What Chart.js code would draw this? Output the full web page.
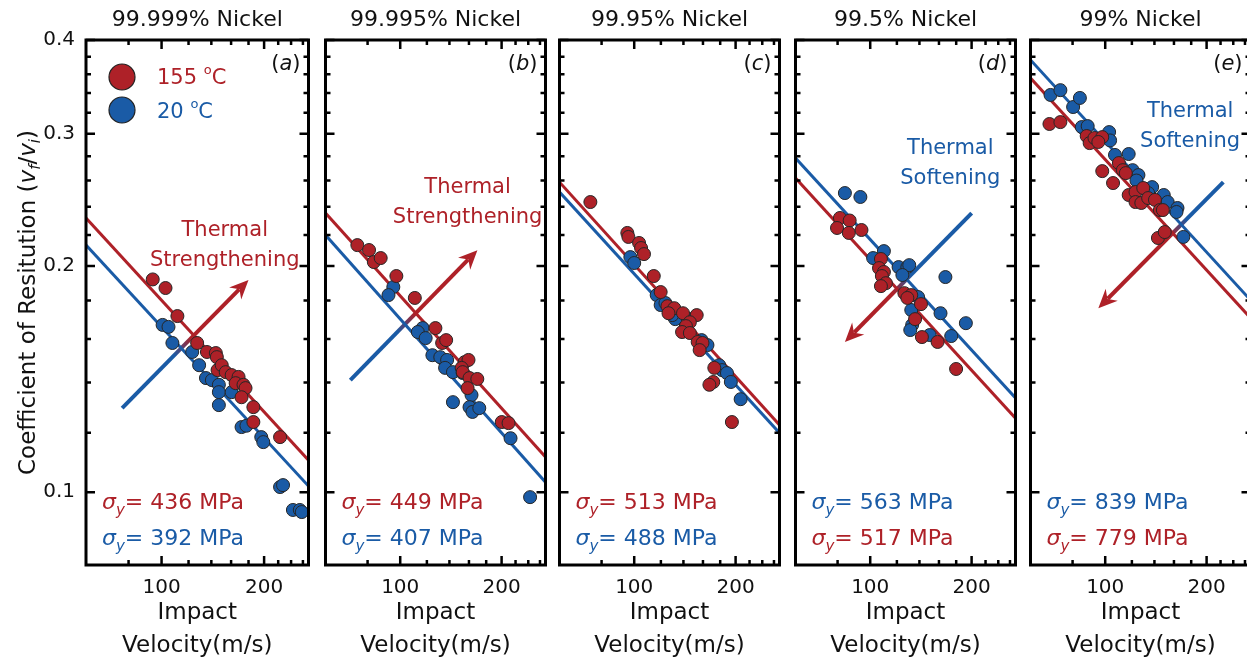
<!DOCTYPE html>
<html>
<head>
<meta charset="utf-8">
<script src="https://cdn.jsdelivr.net/npm/chart.js@4.4.1/dist/chart.umd.min.js"></script>
<style>
  html, body { margin: 0; padding: 0; background: #fff; overflow: hidden; }
  #wrap { position: relative; width: 1247px; height: 666px; overflow: hidden; }
  #wrap canvas { position: absolute; top: 0; }
</style>
</head>
<body>
<div id="wrap"></div>
<script>
const FONT = "'DejaVu Sans', sans-serif";
const RED = '#ae2128';
const BLUE = '#1a5ba6';
const INK = '#111';

const purities = ['99.999% Nickel', '99.995% Nickel', '99.95% Nickel', '99.5% Nickel', '99% Nickel'];
const panelTags = ['a', 'b', 'c', 'd', 'e'];
const legendLabels = ['155', '20'];

// [impact velocity (m/s), coefficient of restitution]
const hotA = [[94.2,0.192],[102.7,0.187],[111.3,0.1716],[127.2,0.158],[135.9,0.1537],[144.3,0.1532],[145.3,0.1513],[146,0.1454],[150.2,0.1476],[154.3,0.1445],[160.6,0.1432],[168.3,0.1424],[165,0.1397],[174,0.139],[176.4,0.1376],[171.7,0.1338],[186,0.1298],[186,0.124],[222.8,0.1184]];
const coldA = [[100.7,0.167],[104.8,0.166],[107.6,0.158],[123,0.1537],[128.9,0.1476],[135,0.1419],[140.5,0.141],[147.3,0.139],[147.3,0.1359],[147.3,0.1306],[160.6,0.1359],[171.7,0.1221],[177.5,0.1226],[196.2,0.1184],[198.9,0.1166],[222.8,0.1016],[227.3,0.1022],[243,0.0947],[254.6,0.0947],[258,0.0941]];
const hotB = [[74.6,0.2133],[80.8,0.2101],[83.5,0.2025],[87.5,0.205],[97.4,0.194],[110.5,0.1814],[127.2,0.1654],[133.2,0.158],[136.9,0.1594],[155.3,0.149],[159.5,0.15],[152.2,0.1464],[153.3,0.1445],[160.6,0.1419],[158.5,0.1376],[169.4,0.1415],[200.2,0.124],[209.7,0.1236]];
const coldB = [[95.4,0.1876],[92.3,0.183],[116.6,0.1654],[112.8,0.1634],[119,0.1604],[124.6,0.1522],[131.5,0.1513],[137.8,0.15],[135.9,0.1464],[143.4,0.1445],[153.3,0.1441],[143.4,0.1318],[162.8,0.1347],[160.6,0.1298],[163.9,0.1279],[171.7,0.1294],[212.6,0.118],[243,0.0985]];
const hotC = [[74.1,0.2434],[95.4,0.2214],[96.1,0.2187],[103.4,0.2147],[104.8,0.2114],[106.9,0.2075],[114.3,0.194],[119.8,0.1847],[125.5,0.1769],[131.5,0.1758],[139.6,0.1731],[153.3,0.1721],[126.4,0.1731],[146.3,0.1684],[142.4,0.1664],[138.7,0.1634],[146.3,0.1629],[154.3,0.1585],[159.5,0.158],[156.4,0.1546],[172.9,0.1464],[171.7,0.1402],[167.2,0.139],[195,0.124]];
const coldC = [[97.4,0.2056],[100,0.2019],[116.6,0.183],[119.8,0.1775],[123.8,0.1786],[132.4,0.17],[129.7,0.1721],[146.3,0.17],[158.5,0.1594],[165,0.157],[178.7,0.1476],[182.3,0.1454],[188.5,0.1441],[193.6,0.1402],[207,0.133]];
const hotD = [[81.3,0.2318],[86.9,0.23],[79.7,0.2248],[86.4,0.2214],[94.2,0.2234],[107.6,0.2044],[106.2,0.1988],[109.8,0.1964],[108.3,0.194],[111.3,0.1898],[107.6,0.1881],[126.3,0.1841],[132.4,0.183],[128.9,0.1814],[141.5,0.178],[135.9,0.17],[142.4,0.1609],[158.5,0.1585],[179.9,0.1459]];
const coldD = [[84.1,0.2502],[93.5,0.2472],[109.8,0.2094],[102,0.205],[121.4,0.1994],[128.9,0.1994],[130.6,0.2006],[124.6,0.1946],[167.2,0.1934],[138.7,0.1819],[132.4,0.1748],[161.7,0.1731],[192.3,0.1679],[133.2,0.167],[150.2,0.1619],[174,0.1614],[131.5,0.1644]];
const hotE = [[68.3,0.3092],[73.6,0.311],[88.1,0.298],[89.9,0.2916],[92.9,0.2962],[98,0.297],[95.4,0.2926],[109.8,0.2743],[112.8,0.2684],[115.1,0.266],[98,0.2676],[105.5,0.258],[117.4,0.2487],[123,0.251],[129.7,0.2541],[123,0.2434],[128,0.2427],[134.1,0.2464],[140.5,0.245],[145.3,0.2375],[148.3,0.2375],[143.4,0.218],[150.2,0.222]];
const coldE = [[68.8,0.338],[73.6,0.343],[80.3,0.3257],[84.1,0.3349],[85.2,0.3063],[88.7,0.3072],[102.7,0.3016],[103.4,0.294],[106.9,0.2812],[117.4,0.282],[120.6,0.2684],[125.5,0.2644],[123.8,0.26],[137.8,0.2548],[134.1,0.2502],[149.2,0.2487],[153.3,0.2434],[163.9,0.239],[162.8,0.2361],[170.6,0.2187]];

const hotPoints = [hotA, hotB, hotC, hotD, hotE];
const coldPoints = [coldA, coldB, coldC, coldD, coldE];

// power-law fits, e at the two ends of the velocity range
const fitSpan = [60, 270];
const fitHot = [[0.2318, 0.1103], [0.2353, 0.1114], [0.2587, 0.1229], [0.262, 0.1255], [0.356, 0.1706]];
const fitCold = [[0.2133, 0.1019], [0.22, 0.1031], [0.251, 0.1199], [0.2786, 0.1335], [0.3763, 0.1802]];

const sigmaHot = [436, 449, 513, 517, 779];
const sigmaCold = [392, 407, 488, 563, 839];

const velTicks = [80, 100, 120, 140, 160, 180, 200, 220, 240, 260];
const velLabels = [100, 200];
const corTicks = [0.1, 0.12, 0.14, 0.16, 0.18, 0.2, 0.22, 0.24, 0.26, 0.28, 0.3, 0.32, 0.34, 0.36, 0.38, 0.4];
const corLabels = [0.1, 0.2, 0.3, 0.4];

// trend arrows, 20 °C -> 155 °C, in data units
const arrowFrom = [[76.6, 0.1294], [71.1, 0.141], null, [200.1, 0.2353], [224.2, 0.2587]];
const arrowTo = [[180, 0.1917], [169.5, 0.21], null, [84.1, 0.1585], [95.4, 0.1758]];
const arrowMix = [0.48, 0.44, 0, 0.55, 0.36];

const noteText = [['Thermal', 'Strengthening'], ['Thermal', 'Strengthening'], null, ['Thermal', 'Softening'], ['Thermal', 'Softening']];
const noteAt = [[153.3, 0.2227], [158.5, 0.2541], null, [172.9, 0.2872], [178.7, 0.3217]];

// layout of the five plot areas
const AREA_LEFT = [86, 323, 557, 793, 1028];
const AREA_W = 225;
const AREA_BOTTOM = 565;
const H = 666;
const PAD = 5;

const wrap = document.getElementById('wrap');

function font(size, italic) {
  return (italic ? 'italic ' : '') + size + 'px ' + FONT;
}

// parts: [text, size, italic, baseline shift]
function richText(ctx, parts, x, y, align, color) {
  let w = 0;
  parts.forEach(p => { ctx.font = font(p[1], p[2]); w += ctx.measureText(p[0]).width; });
  let cx = align === 'center' ? x - w / 2 : align === 'right' ? x - w : x;
  ctx.fillStyle = color;
  ctx.textAlign = 'left';
  ctx.textBaseline = 'alphabetic';
  parts.forEach(p => {
    ctx.font = font(p[1], p[2]);
    ctx.fillText(p[0], cx, y + (p[3] || 0));
    cx += ctx.measureText(p[0]).width;
  });
}

function drawArrow(ctx, p0, p1, mix) {
  const dx = p1.x - p0.x, dy = p1.y - p0.y;
  const len = Math.hypot(dx, dy);
  const ux = dx / len, uy = dy / len;
  const head = 19, half = 8.5;
  const grad = ctx.createLinearGradient(p0.x, p0.y, p1.x, p1.y);
  grad.addColorStop(0, BLUE);
  grad.addColorStop(Math.max(0, mix - 0.07), BLUE);
  grad.addColorStop(Math.min(1, mix + 0.07), RED);
  grad.addColorStop(1, RED);
  ctx.save();
  ctx.strokeStyle = grad;
  ctx.lineWidth = 4;
  ctx.beginPath();
  ctx.moveTo(p0.x, p0.y);
  ctx.lineTo(p1.x - ux * head * 0.7, p1.y - uy * head * 0.7);
  ctx.stroke();
  ctx.fillStyle = RED;
  ctx.beginPath();
  ctx.moveTo(p1.x, p1.y);
  ctx.lineTo(p1.x - ux * head - uy * half, p1.y - uy * head + ux * half);
  ctx.lineTo(p1.x - ux * head * 0.68, p1.y - uy * head * 0.68);
  ctx.lineTo(p1.x - ux * head + uy * half, p1.y - uy * head - ux * half);
  ctx.closePath();
  ctx.fill();
  ctx.restore();
}

const decor = {
  id: 'decor',
  beforeDatasetsDraw(chart) {
    const i = chart.options.panel;
    if (!arrowFrom[i]) return;
    const {x, y} = chart.scales;
    const p0 = {x: x.getPixelForValue(arrowFrom[i][0]), y: y.getPixelForValue(arrowFrom[i][1])};
    const p1 = {x: x.getPixelForValue(arrowTo[i][0]), y: y.getPixelForValue(arrowTo[i][1])};
    drawArrow(chart.ctx, p0, p1, arrowMix[i]);
  },
  afterDatasetsDraw(chart) {
    const {ctx, chartArea: a, scales: {x, y}} = chart;
    ctx.save();
    ctx.strokeStyle = '#000';
    ctx.lineWidth = 2.5;
    ctx.beginPath();
    velTicks.forEach(v => {
      const px = x.getPixelForValue(v);
      const len = velLabels.includes(v) ? 9 : 5;
      ctx.moveTo(px, a.bottom); ctx.lineTo(px, a.bottom - len);
      ctx.moveTo(px, a.top); ctx.lineTo(px, a.top + len);
    });
    corTicks.forEach(v => {
      const py = y.getPixelForValue(v);
      const len = corLabels.includes(v) ? 9 : 5;
      ctx.moveTo(a.left, py); ctx.lineTo(a.left + len, py);
      ctx.moveTo(a.right, py); ctx.lineTo(a.right - len, py);
    });
    ctx.stroke();
    ctx.lineWidth = 3;
    ctx.strokeRect(a.left, a.top, a.right - a.left, a.bottom - a.top);
    ctx.restore();
  },
  afterDraw(chart) {
    const i = chart.options.panel;
    const {ctx, chartArea: a, scales: {x, y}} = chart;
    ctx.save();

    // panel letter
    richText(ctx, [['(', 21], [panelTags[i], 21, true], [')', 21]], a.right - 8, a.top + 30, 'right', INK);

    // yield strengths, the stiffer condition listed first
    const rows = sigmaHot[i] > sigmaCold[i]
      ? [[sigmaHot[i], RED], [sigmaCold[i], BLUE]]
      : [[sigmaCold[i], BLUE], [sigmaHot[i], RED]];
    rows.forEach((r, k) => {
      richText(ctx, [['σ', 22, true], ['y', 15, true, 6], ['= ' + r[0] + ' MPa', 22]],
        a.left + 16, a.bottom - 56 + k * 36, 'left', r[1]);
    });

    // thermal trend note
    if (noteText[i]) {
      const nx = x.getPixelForValue(noteAt[i][0]);
      const ny = y.getPixelForValue(noteAt[i][1]);
      ctx.fillStyle = i < 2 ? RED : BLUE;
      ctx.font = font(21);
      ctx.textAlign = 'center';
      ctx.textBaseline = 'middle';
      noteText[i].forEach((t, k) => ctx.fillText(t, nx, ny + k * 30));
    }

    if (i === 0) {
      // legend
      [RED, BLUE].forEach((c, k) => {
        ctx.beginPath();
        ctx.arc(a.left + 36, a.top + 37 + k * 33, 13, 0, Math.PI * 2);
        ctx.fillStyle = c;
        ctx.fill();
        ctx.lineWidth = 1.2;
        ctx.strokeStyle = '#222';
        ctx.stroke();
        richText(ctx, [[legendLabels[k] + ' ', 21], ['o', 13, false, -10], ['C', 21]],
          a.left + 71, a.top + 44 + k * 34, 'left', c);
      });

      // y axis title
      ctx.save();
      ctx.translate(35, (a.top + a.bottom) / 2);
      ctx.rotate(-Math.PI / 2);
      richText(ctx, [['Coefficient of Resitution (', 23], ['v', 23, true], ['f', 15, true, 5],
        ['/', 23], ['v', 23, true], ['i', 15, true, 5], [')', 23]], 0, 0, 'center', INK);
      ctx.restore();
    }
    ctx.restore();
  }
};

function toXY(pts) {
  return pts.map(p => ({x: p[0], y: p[1]}));
}

function fitLine(ends) {
  return [{x: fitSpan[0], y: ends[0]}, {x: fitSpan[1], y: ends[1]}];
}

function makePanel(i) {
  const first = i === 0;
  const leftSpace = first ? AREA_LEFT[0] : PAD;
  const width = leftSpace + AREA_W + PAD;
  const cv = document.createElement('canvas');
  cv.width = width;
  cv.height = H;
  cv.style.left = (AREA_LEFT[i] - leftSpace) + 'px';
  cv.style.width = width + 'px';
  cv.style.height = H + 'px';
  wrap.appendChild(cv);

  const pointStyle = {borderColor: '#262626', borderWidth: 1, pointRadius: 6.5, showLine: false};

  new Chart(cv, {
    type: 'scatter',
    data: {
      datasets: [
        Object.assign({data: toXY(hotPoints[i]), backgroundColor: RED}, pointStyle),
        Object.assign({data: toXY(coldPoints[i]), backgroundColor: BLUE}, pointStyle),
        {data: fitLine(fitHot[i]), showLine: true, borderColor: RED, borderWidth: 3, pointRadius: 0},
        {data: fitLine(fitCold[i]), showLine: true, borderColor: BLUE, borderWidth: 3, pointRadius: 0}
      ]
    },
    options: {
      panel: i,
      responsive: false,
      animation: false,
      events: [],
      layout: {padding: {left: first ? 0 : PAD, right: PAD, top: 0, bottom: 0}},
      plugins: {
        legend: {display: false},
        tooltip: {enabled: false},
        title: {
          display: true,
          text: purities[i],
          fullSize: false,
          color: INK,
          font: {family: FONT, size: 22, weight: 'normal', lineHeight: 1.2},
          padding: {top: 7, bottom: 6.6}
        }
      },
      scales: {
        x: {
          type: 'logarithmic',
          position: 'bottom',
          min: 60,
          max: 270,
          grid: {display: false, drawTicks: false},
          border: {display: false},
          afterBuildTicks: s => { s.ticks = velTicks.map(v => ({value: v})); },
          afterFit: s => { s.height = H - AREA_BOTTOM; },
          ticks: {
            autoSkip: false, maxRotation: 0, minRotation: 0, padding: 11, color: INK,
            font: {family: FONT, size: 20, lineHeight: 1.2},
            callback: v => velLabels.includes(v) ? String(v) : ''
          },
          title: {
            display: true,
            text: ['Impact', 'Velocity(m/s)'],
            color: INK,
            font: {family: FONT, size: 23, lineHeight: 1.43},
            padding: {top: 0, bottom: 4}
          }
        },
        y: {
          type: 'logarithmic',
          position: 'left',
          min: 0.08,
          max: 0.4,
          grid: {display: false, drawTicks: false},
          border: {display: false},
          afterBuildTicks: s => { s.ticks = corTicks.map(v => ({value: v})); },
          afterFit: s => { s.width = first ? AREA_LEFT[0] : 0; },
          ticks: {
            display: first, autoSkip: false, padding: 11, color: INK,
            font: {family: FONT, size: 20, lineHeight: 1.2},
            callback: v => corLabels.includes(v) ? v.toFixed(1) : ''
          }
        }
      }
    },
    plugins: [decor]
  });
}

for (let i = 0; i < purities.length; i++) makePanel(i);
</script>
</body>
</html>
